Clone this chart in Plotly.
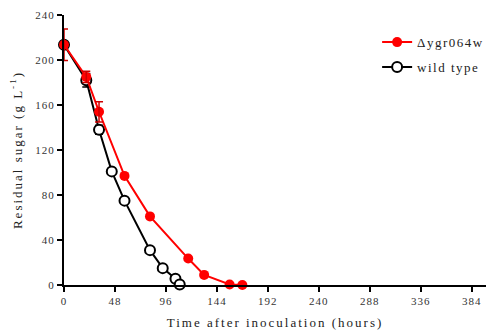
import plotly.graph_objects as go

# Δygr064w (red, filled)
mut_t = [0, 21, 33, 57, 81, 117, 132, 156, 168]
mut_y = [213.5, 185, 154, 97, 61, 23.5, 9, 0.5, 0]
mut_err = [14, 5, 9, 0, 0, 0, 0, 0, 0]

# wild type (black, open)
wt_t = [0, 21, 33, 45, 57, 81, 93, 105, 109]
wt_y = [213.5, 182, 138, 101, 75, 31, 15, 5.5, 0.5]
wt_err = [0, 6, 4, 0, 0, 0, 0, 0, 0]

x_ticks = [0, 48, 96, 144, 192, 240, 288, 336, 384]
y_ticks = [0, 40, 80, 120, 160, 200, 240]

serif = "Liberation Serif, Times New Roman, serif"


def spaced(s, px=2):
    return f'<span style="letter-spacing:{px}px">{s}</span>'


def err_subset(t, y, e):
    idx = [i for i, v in enumerate(e) if v > 0]
    return [t[i] for i in idx], [y[i] for i in idx], [e[i] for i in idx]


fig = go.Figure()

et, ey, ee = err_subset(wt_t, wt_y, wt_err)
fig.add_trace(go.Scatter(
    x=et, y=ey, mode="markers", marker=dict(size=1, opacity=0), showlegend=False,
    hoverinfo="skip",
    error_y=dict(type="data", array=ee, color="black", thickness=1.5, width=4),
    cliponaxis=False,
))
fig.add_trace(go.Scatter(
    x=wt_t, y=wt_y, name=spaced("wild type", 1.5), mode="lines+markers",
    legendgroup="wt", legendrank=2,
    line=dict(color="black", width=2),
    marker=dict(symbol="circle", size=10, color="white", line=dict(width=2, color="black")),
    cliponaxis=False,
))
et, ey, ee = err_subset(mut_t, mut_y, mut_err)
fig.add_trace(go.Scatter(
    x=mut_t, y=mut_y, name=spaced("Δygr064w", 1.5), mode="lines+markers",
    legendgroup="mut", legendrank=1,
    line=dict(color="#ff0000", width=2),
    marker=dict(symbol="circle", size=10, color="#ff0000"),
    cliponaxis=False,
))
fig.add_trace(go.Scatter(
    x=et, y=ey, mode="markers", marker=dict(size=1, opacity=0), showlegend=False,
    hoverinfo="skip",
    error_y=dict(type="data", array=ee, color="#cc0000", thickness=1.5, width=4),
    cliponaxis=False,
))

fig.update_layout(
    width=486, height=335,
    margin=dict(l=64, r=0, t=15, b=50, autoexpand=False),
    paper_bgcolor="white", plot_bgcolor="white",
    font=dict(family=serif, color="#222"),
    showlegend=True,
    legend=dict(x=0.742, y=0.955, xanchor="left", yanchor="top",
                traceorder="grouped", font=dict(size=13, family=serif, color="#222"),
                bgcolor="rgba(0,0,0,0)", itemwidth=30, tracegroupgap=5),
    xaxis=dict(range=[0, 397.5], tickvals=x_ticks,
               ticktext=[spaced(str(v), 1) for v in x_ticks],
               showgrid=False, zeroline=False,
               showline=True, linecolor="black", linewidth=2,
               ticks="outside", ticklen=5, tickwidth=2, tickcolor="black",
               tickfont=dict(size=11, family=serif, color="#333"),
               title=dict(text=spaced("Time after inoculation (hours)", 2),
                          font=dict(size=13, family=serif, color="#222"), standoff=12)),
    yaxis=dict(range=[0, 240], tickvals=y_ticks,
               ticktext=[spaced(str(v), 1) for v in y_ticks],
               showgrid=False, zeroline=False,
               showline=True, linecolor="black", linewidth=2,
               ticks="outside", ticklen=5, tickwidth=2, tickcolor="black",
               tickfont=dict(size=11, family=serif, color="#333"),
               title=dict(text=spaced("Residual sugar (g L<sup>-1</sup>)", 2),
                          font=dict(size=13, family=serif, color="#222"), standoff=10)),
)

fig.write_html("out.html")
